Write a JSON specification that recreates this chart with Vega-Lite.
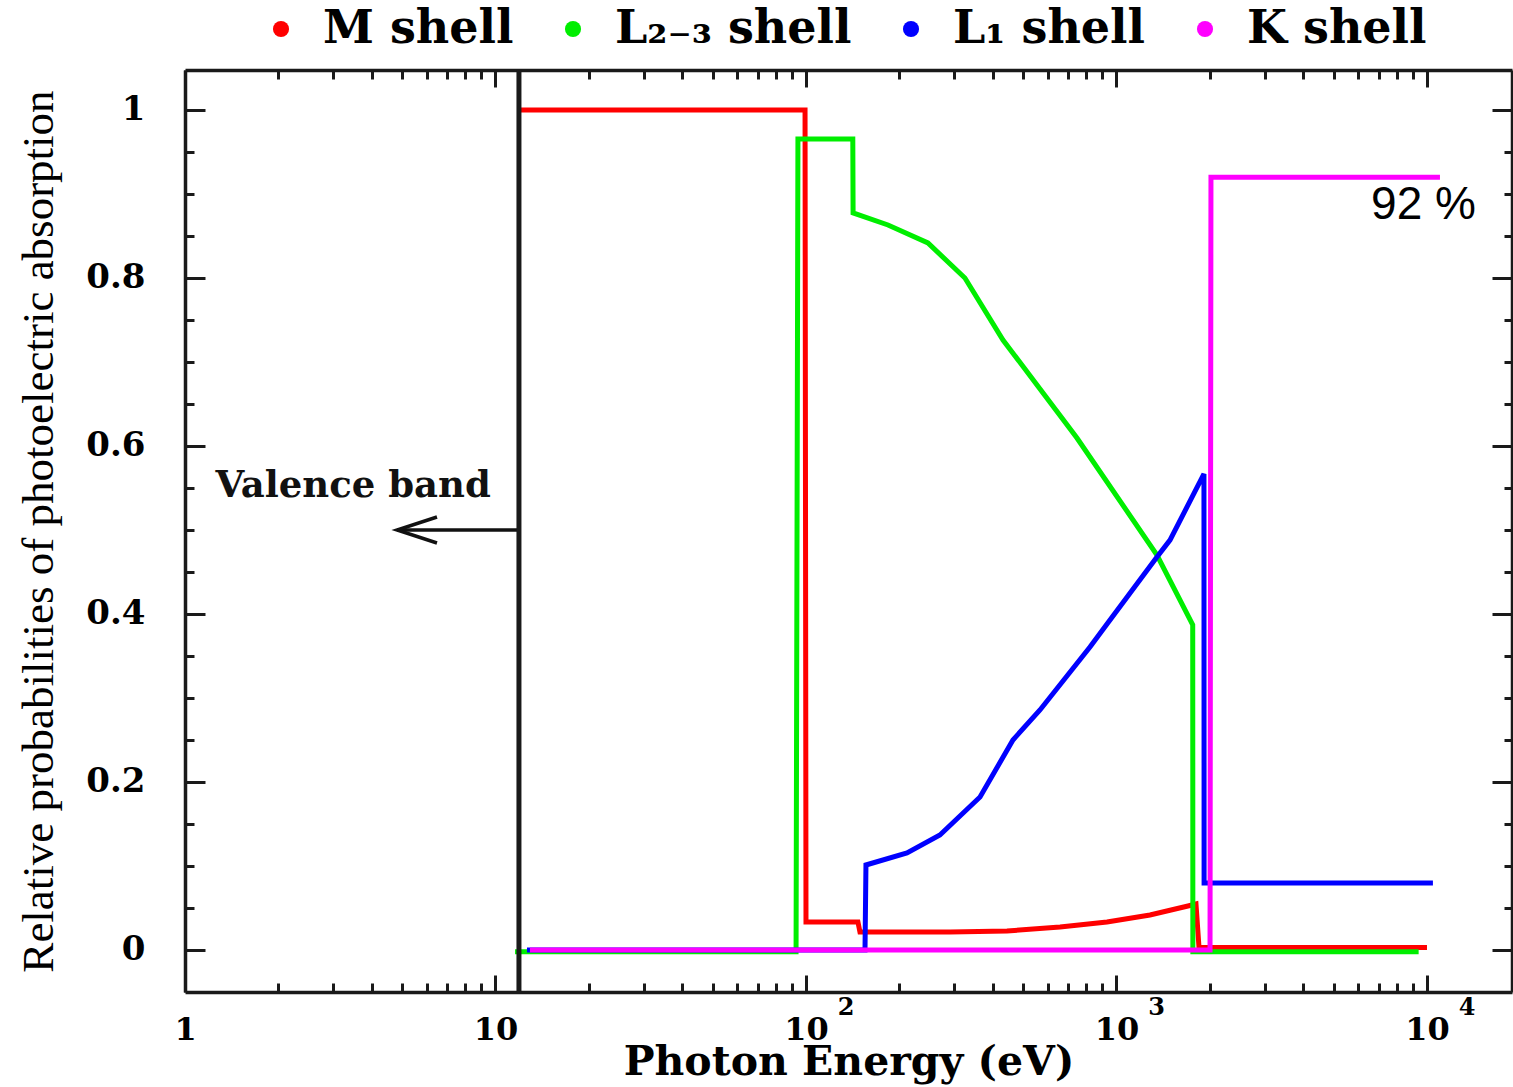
{
  "$schema": "https://vega.github.io/schema/vega-lite/v6.json",
  "width": 1327,
  "height": 922,
  "autosize": {"type": "none"},
  "padding": {"left": 185, "top": 70, "right": 1, "bottom": 95},
  "background": "white",
  "config": {
    "view": {"stroke": null},
    "font": "DejaVu Serif",
    "axis": {"grid": false, "domainColor": "#1a1a1a", "domainWidth": 3.5, "tickColor": "#1a1a1a", "tickWidth": 3, "labelColor": "#000", "titleColor": "#000"}
  },
  "datasets": {
    "shells": [
      {"shell": "M shell", "i": 1, "E": 11.9, "P": 1.0},
      {"shell": "M shell", "i": 2, "E": 99.3, "P": 1.0},
      {"shell": "M shell", "i": 3, "E": 100, "P": 0.0333},
      {"shell": "M shell", "i": 4, "E": 147, "P": 0.0333},
      {"shell": "M shell", "i": 5, "E": 149.2, "P": 0.0214},
      {"shell": "M shell", "i": 6, "E": 291, "P": 0.0214},
      {"shell": "M shell", "i": 7, "E": 444, "P": 0.0226},
      {"shell": "M shell", "i": 8, "E": 658, "P": 0.0274},
      {"shell": "M shell", "i": 9, "E": 932, "P": 0.0333},
      {"shell": "M shell", "i": 10, "E": 1282, "P": 0.0417},
      {"shell": "M shell", "i": 11, "E": 1699, "P": 0.0524},
      {"shell": "M shell", "i": 12, "E": 1803, "P": 0.0548},
      {"shell": "M shell", "i": 13, "E": 1844, "P": 0.003},
      {"shell": "M shell", "i": 14, "E": 10000, "P": 0.003},
      {"shell": "L₂₋₃ shell", "i": 1, "E": 11.56, "P": -0.002},
      {"shell": "L₂₋₃ shell", "i": 2, "E": 92.9, "P": -0.002},
      {"shell": "L₂₋₃ shell", "i": 3, "E": 94.2, "P": 0.9655},
      {"shell": "L₂₋₃ shell", "i": 4, "E": 141.5, "P": 0.9655},
      {"shell": "L₂₋₃ shell", "i": 5, "E": 141.8, "P": 0.8774},
      {"shell": "L₂₋₃ shell", "i": 6, "E": 183.7, "P": 0.8631},
      {"shell": "L₂₋₃ shell", "i": 7, "E": 247, "P": 0.8417},
      {"shell": "L₂₋₃ shell", "i": 8, "E": 325, "P": 0.8},
      {"shell": "L₂₋₃ shell", "i": 9, "E": 431, "P": 0.7262},
      {"shell": "L₂₋₃ shell", "i": 10, "E": 746, "P": 0.6095},
      {"shell": "L₂₋₃ shell", "i": 11, "E": 1350, "P": 0.4702},
      {"shell": "L₂₋₃ shell", "i": 12, "E": 1760, "P": 0.387},
      {"shell": "L₂₋₃ shell", "i": 13, "E": 1762, "P": -0.002},
      {"shell": "L₂₋₃ shell", "i": 14, "E": 9400, "P": -0.002},
      {"shell": "L₁ shell", "i": 1, "E": 12.63, "P": 0},
      {"shell": "L₁ shell", "i": 2, "E": 154.9, "P": 0},
      {"shell": "L₁ shell", "i": 3, "E": 156, "P": 0.1012},
      {"shell": "L₁ shell", "i": 4, "E": 211.5, "P": 0.1155},
      {"shell": "L₁ shell", "i": 5, "E": 270, "P": 0.1369},
      {"shell": "L₁ shell", "i": 6, "E": 363.5, "P": 0.1821},
      {"shell": "L₁ shell", "i": 7, "E": 464, "P": 0.25},
      {"shell": "L₁ shell", "i": 8, "E": 567, "P": 0.2857},
      {"shell": "L₁ shell", "i": 9, "E": 821.5, "P": 0.3607},
      {"shell": "L₁ shell", "i": 10, "E": 953, "P": 0.3929},
      {"shell": "L₁ shell", "i": 11, "E": 1350, "P": 0.4679},
      {"shell": "L₁ shell", "i": 12, "E": 1487, "P": 0.488},
      {"shell": "L₁ shell", "i": 13, "E": 1913, "P": 0.5667},
      {"shell": "L₁ shell", "i": 14, "E": 1915, "P": 0.0798},
      {"shell": "L₁ shell", "i": 15, "E": 10450, "P": 0.0798},
      {"shell": "K shell", "i": 1, "E": 12.91, "P": 0},
      {"shell": "K shell", "i": 2, "E": 2001, "P": 0},
      {"shell": "K shell", "i": 3, "E": 2015, "P": 0.92},
      {"shell": "K shell", "i": 4, "E": 11010, "P": 0.92}
    ],
    "arrow": [
      {"part": "shaft", "i": 1, "E": 11.9, "P": 0.5},
      {"part": "shaft", "i": 2, "E": 4.82, "P": 0.5},
      {"part": "head", "i": 1, "E": 6.48, "P": 0.5155},
      {"part": "head", "i": 2, "E": 4.82, "P": 0.5},
      {"part": "head", "i": 3, "E": 6.48, "P": 0.4845}
    ]
  },
  "layer": [
    {
      "data": {"name": "shells"},
      "mark": {"type": "line", "strokeWidth": 5, "strokeJoin": "miter"},
      "encoding": {
        "x": {
          "field": "E", "type": "quantitative",
          "scale": {"type": "log", "domain": [1, 18785], "nice": false},
          "axis": {
            "orient": "bottom",
            "values": [1,2,3,4,5,6,7,8,9,10,20,30,40,50,60,70,80,90,100,200,300,400,500,600,700,800,900,1000,2000,3000,4000,5000,6000,7000,8000,9000,10000],
            "tickSize": {"condition": {"test": "indexof([1,10,100,1000,10000], datum.value) >= 0", "value": -17}, "value": -9},
            "labelExpr": "datum.value == 1 ? '1' : (indexof([10,100,1000,10000], datum.value) >= 0 ? '10' : '')",
            "labelFont": "DejaVu Serif", "labelFontWeight": "bold", "labelFontSize": 32,
            "labelPadding": 39, "labelBaseline": "top", "labelFlush": false, "labelOverlap": false,
            "title": "Photon Energy (eV)", "titleFont": "DejaVu Serif", "titleFontWeight": "bold", "titleFontSize": 41, "titlePadding": -11
          }
        },
        "y": {
          "field": "P", "type": "quantitative",
          "scale": {"domain": [-0.05, 1.0476], "nice": false, "zero": false},
          "axis": {
            "orient": "left",
            "values": [0,0.05,0.1,0.15,0.2,0.25,0.3,0.35,0.4,0.45,0.5,0.55,0.6,0.65,0.7,0.75,0.8,0.85,0.9,0.95,1],
            "tickSize": {"condition": {"test": "abs(datum.value*5 - round(datum.value*5)) < 0.001", "value": -20}, "value": -9},
            "labelExpr": "abs(datum.value*5 - round(datum.value*5)) < 0.001 ? format(datum.value, '~g') : ''",
            "labelFont": "DejaVu Serif", "labelFontWeight": "bold", "labelFontSize": 34, "labelPadding": 60, "labelOverlap": false,
            "title": "Relative probabilities of photoelectric absorption",
            "titleFont": "Liberation Serif", "titleFontWeight": "normal", "titleFontSize": 45, "titlePadding": 24
          }
        },
        "color": {
          "field": "shell", "type": "nominal",
          "scale": {"domain": ["M shell", "L₂₋₃ shell", "L₁ shell", "K shell"], "range": ["#ff0000", "#00ee00", "#0000ff", "#ff00ff"]},
          "legend": {
            "orient": "none", "legendX": 73, "legendY": -64, "direction": "horizontal", "columns": 4,
            "title": null, "padding": 0, "symbolType": "circle", "symbolSize": 260, "symbolStrokeWidth": 0,
            "labelFont": "DejaVu Serif", "labelFontWeight": "bold", "labelFontSize": 46, "labelColor": "#000",
            "labelOffset": 19, "labelLimit": 500, "columnPadding": 36,
            "encode": {"symbols": {"update": {"fill": {"scale": "color", "field": "value"}, "fillOpacity": {"value": 1}}}}
          }
        },
        "order": {"field": "i", "type": "quantitative"}
      }
    },
    {
      "data": {"name": "arrow"},
      "mark": {"type": "line", "color": "#111", "strokeWidth": 3.5},
      "encoding": {
        "x": {
          "field": "E", "type": "quantitative",
          "scale": {"type": "log", "domain": [1, 18785], "nice": false},
          "axis": {
            "orient": "top", "labels": false, "title": null,
            "values": [1,2,3,4,5,6,7,8,9,10,20,30,40,50,60,70,80,90,100,200,300,400,500,600,700,800,900,1000,2000,3000,4000,5000,6000,7000,8000,9000,10000],
            "tickSize": {"condition": {"test": "indexof([1,10,100,1000,10000], datum.value) >= 0", "value": -17}, "value": -9}
          }
        },
        "y": {
          "field": "P", "type": "quantitative",
          "scale": {"domain": [-0.05, 1.0476], "nice": false, "zero": false},
          "axis": {
            "orient": "right", "labels": false, "title": null,
            "values": [0,0.05,0.1,0.15,0.2,0.25,0.3,0.35,0.4,0.45,0.5,0.55,0.6,0.65,0.7,0.75,0.8,0.85,0.9,0.95,1],
            "tickSize": {"condition": {"test": "abs(datum.value*5 - round(datum.value*5)) < 0.001", "value": -20}, "value": -8}
          }
        },
        "detail": {"field": "part", "type": "nominal"},
        "order": {"field": "i", "type": "quantitative"}
      }
    },
    {
      "data": {"values": [{"E": 11.9}]},
      "mark": {"type": "rule", "color": "#1a1a1a", "strokeWidth": 5},
      "encoding": {
        "x": {"field": "E", "type": "quantitative", "scale": {"type": "log", "domain": [1, 18785], "nice": false}, "axis": null}
      }
    },
    {
      "data": {"values": [{"E": 3.48, "P": 0.552, "label": "Valence band"}]},
      "mark": {"type": "text", "font": "DejaVu Serif", "fontWeight": "bold", "fontSize": 37, "color": "#111", "align": "center", "baseline": "middle"},
      "encoding": {
        "x": {"field": "E", "type": "quantitative", "scale": {"type": "log", "domain": [1, 18785], "nice": false}, "axis": null},
        "y": {"field": "P", "type": "quantitative", "scale": {"domain": [-0.05, 1.0476], "nice": false, "zero": false}, "axis": null},
        "text": {"field": "label"}
      }
    },
    {
      "data": {"values": [{"E": 9743, "P": 0.887, "label": "92 %"}]},
      "mark": {"type": "text", "font": "Liberation Sans", "fontSize": 46, "color": "#000", "align": "center", "baseline": "middle"},
      "encoding": {
        "x": {"field": "E", "type": "quantitative", "scale": {"type": "log", "domain": [1, 18785], "nice": false}, "axis": null},
        "y": {"field": "P", "type": "quantitative", "scale": {"domain": [-0.05, 1.0476], "nice": false, "zero": false}, "axis": null},
        "text": {"field": "label"}
      }
    },
    {
      "data": {"values": [{"E": 100, "sup": "2"}, {"E": 1000, "sup": "3"}, {"E": 10000, "sup": "4"}]},
      "mark": {"type": "text", "font": "DejaVu Serif", "fontWeight": "bold", "fontSize": 24, "color": "#000", "align": "center", "baseline": "middle", "dx": 40, "dy": 16},
      "encoding": {
        "x": {"field": "E", "type": "quantitative", "scale": {"type": "log", "domain": [1, 18785], "nice": false}, "axis": null},
        "y": {"datum": -0.05, "type": "quantitative", "scale": {"domain": [-0.05, 1.0476], "nice": false, "zero": false}, "axis": null},
        "text": {"field": "sup"}
      }
    }
  ],
  "resolve": {"axis": {"x": "independent", "y": "independent"}}
}
